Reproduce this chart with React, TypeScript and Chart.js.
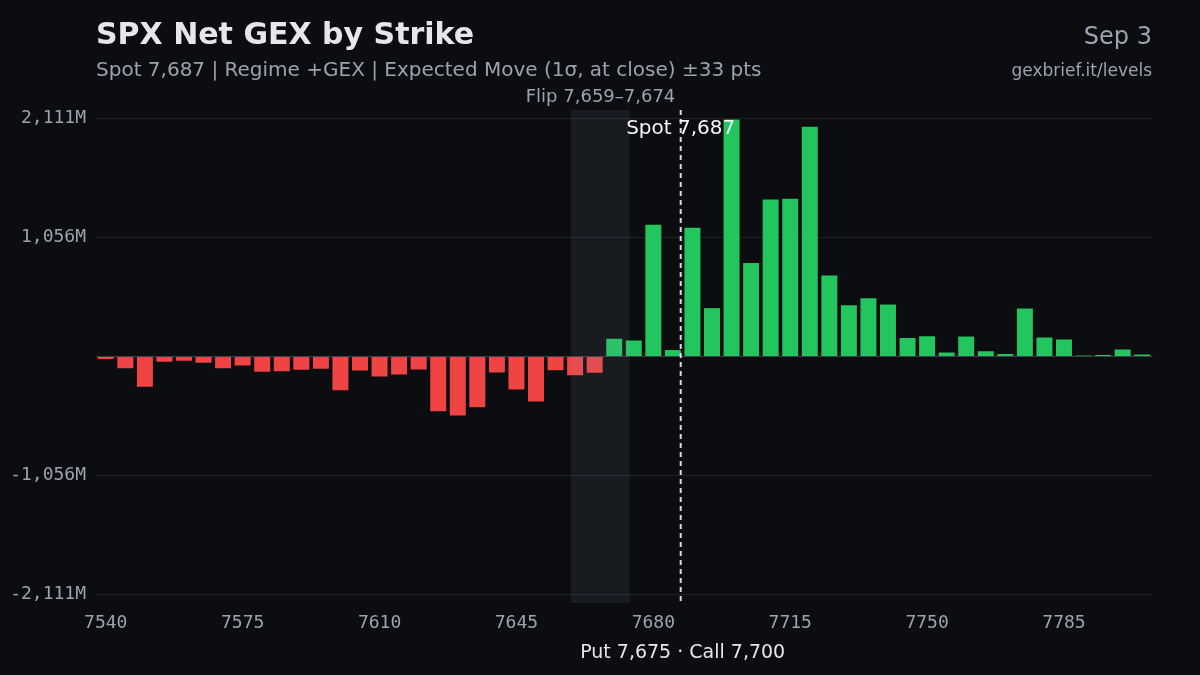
import React, { useEffect, useRef } from "react";
import Chart from "chart.js/auto";

// strikes (x categories) and net GEX per strike, in $M
const strikes: number[] = [
  7540, 7545, 7550, 7555, 7560, 7565, 7570, 7575, 7580, 7585,
  7590, 7595, 7600, 7605, 7610, 7615, 7620, 7625, 7630, 7635,
  7640, 7645, 7650, 7655, 7660, 7665, 7670, 7675, 7680, 7685,
  7690, 7695, 7700, 7705, 7710, 7715, 7720, 7725, 7730, 7735,
  7740, 7745, 7750, 7755, 7760, 7765, 7770, 7775, 7780, 7785,
  7790, 7795, 7800, 7805,
];
const netGex: number[] = [
  -30, -113, -278, -56, -47, -65, -113, -89, -145, -139,
  -127, -118, -308, -133, -186, -169, -124, -494, -532, -459,
  -151, -302, -408, -130, -175, -154, 166, 151, 1178, 66,
  1151, 438, 2111, 838, 1402, 1408, 2047, 728, 463, 525,
  470, 174, 189, 44, 186, 56, 32, 435, 177, 160,
  14, 20, 71, 27,
];
const xTickValues: number[] = [7540, 7575, 7610, 7645, 7680, 7715, 7750, 7785];
const yTickValues: number[] = [-2111, -1056, 0, 1056, 2111];

const spot = 7687;
const flipLow = 7659;
const flipHigh = 7674;
const putWall = 7675;
const callWall = 7700;

const BG = "#0b0d10";
const RED = "#ef4444";
const GREEN = "#22c55e";
const MUTED = "#9ca3af";
const LIGHT = "#e5e7eb";
const SANS = "'DejaVu Sans', sans-serif";
const MONO = "'DejaVu Sans Mono', monospace";

const fmt = (n: number) => n.toLocaleString("en-US");

const overlay = {
  id: "overlay",
  beforeDraw(chart: any) {
    const { ctx, width, height } = chart;
    ctx.save();
    ctx.fillStyle = BG;
    ctx.fillRect(0, 0, width, height);
    ctx.restore();
  },
  afterDatasetsDraw(chart: any) {
    const { ctx, chartArea: a, scales } = chart;
    const x = scales.x;
    ctx.save();
    // flip zone band
    const b0 = x.getPixelForValue(flipLow);
    const b1 = x.getPixelForValue(flipHigh);
    ctx.fillStyle = "rgba(148,163,184,0.1)";
    ctx.fillRect(b0, a.top, b1 - b0, a.bottom - a.top);

    // spot line
    const sx = x.getPixelForValue(spot);
    ctx.strokeStyle = "rgba(255,255,255,0.85)";
    ctx.lineWidth = 2;
    ctx.setLineDash([5, 4]);
    ctx.beginPath();
    ctx.moveTo(sx, a.top);
    ctx.lineTo(sx, a.bottom);
    ctx.stroke();
    ctx.setLineDash([]);

    ctx.textAlign = "center";
    ctx.textBaseline = "alphabetic";
    ctx.fillStyle = "#f3f4f6";
    ctx.font = `20px ${SANS}`;
    ctx.fillText(`Spot ${fmt(spot)}`, sx, a.top + 24);

    ctx.fillStyle = MUTED;
    ctx.font = `18px ${SANS}`;
    ctx.fillText(`Flip ${fmt(flipLow)}\u2013${fmt(flipHigh)}`, (b0 + b1) / 2, a.top - 8);

    const mx = x.getPixelForValue((putWall + callWall) / 2);
    ctx.fillStyle = LIGHT;
    ctx.font = `19px ${SANS}`;
    ctx.fillText(`Put ${fmt(putWall)} \u00b7 Call ${fmt(callWall)}`, mx, a.bottom + 55);
    ctx.restore();
  },
  afterDraw(chart: any) {
    const { ctx, chartArea: a } = chart;
    ctx.save();
    ctx.textBaseline = "alphabetic";
    ctx.textAlign = "left";
    ctx.fillStyle = LIGHT;
    ctx.font = `bold 30px ${SANS}`;
    ctx.fillText("SPX Net GEX by Strike", a.left, 44);
    ctx.fillStyle = MUTED;
    ctx.font = `20px ${SANS}`;
    ctx.fillText(
      `Spot ${fmt(spot)} | Regime +GEX | Expected Move (1\u03c3, at close) \u00b133 pts`,
      a.left,
      76
    );
    ctx.textAlign = "right";
    ctx.font = `24px ${SANS}`;
    ctx.fillText("Sep 3", a.right, 44);
    ctx.font = `17px ${SANS}`;
    ctx.fillText("gexbrief.it/levels", a.right, 76);
    ctx.restore();
  },
};

const GexChart: React.FC = () => {
  const canvasRef = useRef<HTMLCanvasElement>(null);

  useEffect(() => {
    if (!canvasRef.current) return;
    const ctx = canvasRef.current.getContext("2d");
    if (!ctx) return;

    const chart = new Chart(ctx, {
      type: "bar",
      data: {
        datasets: [
          {
            label: "Net GEX",
            data: strikes.map((s, i) => ({ x: s, y: netGex[i] })),
            backgroundColor: netGex.map((v) => (v < 0 ? RED : GREEN)),
            borderColor: "rgba(0,0,0,0.22)",
            borderWidth: 1,
            barPercentage: 0.92,
            categoryPercentage: 1,
          },
        ],
      },
      options: {
        responsive: true,
        maintainAspectRatio: false,
        animation: false,
        layout: { padding: { left: 0, right: 48, top: 110, bottom: 0 } },
        plugins: {
          legend: { display: false },
          tooltip: { enabled: false },
        },
        scales: {
          x: {
            type: "linear",
            offset: false,
            min: strikes[0] - 2.5,
            max: strikes[strikes.length - 1] + 2.5,
            afterBuildTicks: (scale: any) => {
              scale.ticks = xTickValues.map((v) => ({ value: v }));
            },
            afterFit: (scale: any) => {
              scale.height = 72;
            },
            grid: { display: false, drawTicks: false, offset: false },
            border: { display: false },
            ticks: {
              color: MUTED,
              font: { family: MONO, size: 18 },
              padding: 10,
              autoSkip: false,
              maxRotation: 0,
              callback: (v: any) => String(v),
            },
          },
          y: {
            min: -2186,
            max: 2186,
            afterBuildTicks: (scale: any) => {
              scale.ticks = yTickValues.map((v) => ({ value: v }));
            },
            afterFit: (scale: any) => {
              scale.width = 96;
            },
            grid: {
              drawTicks: false,
              color: (c: any) => (c.tick && c.tick.value === 0 ? "#3a4048" : "#1e2329"),
              lineWidth: 1,
            },
            border: { display: false },
            ticks: {
              color: MUTED,
              font: { family: MONO, size: 18 },
              padding: 10,
              callback: (v: any) => (Number(v) === 0 ? "" : `${fmt(Number(v))}M`),
            },
          },
        },
      },
      plugins: [overlay],
    } as any);

    return () => {
      chart.destroy();
    };
  }, []);

  return <canvas ref={canvasRef} />;
};

export default function App() {
  return (
    <div
      style={{
        position: "fixed",
        left: 0,
        top: 0,
        width: 1200,
        height: 675,
        background: BG,
      }}
    >
      <GexChart />
    </div>
  );
}
